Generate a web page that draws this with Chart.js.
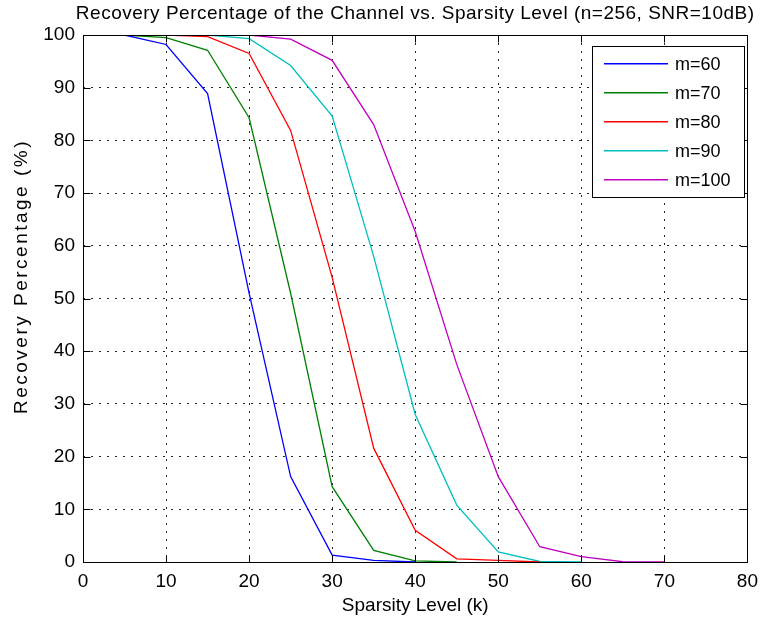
<!DOCTYPE html>
<html>
<head>
<meta charset="utf-8">
<script src="https://cdn.jsdelivr.net/npm/chart.js@4.4.0/dist/chart.umd.min.js"></script>
<style>
  html, body { margin: 0; padding: 0; background: #fff; }
  #wrap { width: 766px; height: 623px; }
</style>
</head>
<body>
<div id="wrap"><canvas id="chart"></canvas></div>
<script>
// sparsity level k
const sparsity = [5, 10, 15, 20, 25, 30, 35, 40, 45, 50, 55, 60, 65, 70];

// recovery percentage for each number of measurements m
const m60  = [100, 98.2, 88.9, 51.0, 16.2,  1.3,  0.3,  0,    null, null, null, null, null, null];
const m70  = [100, 99.5, 97.1, 84.3, 51.0, 14.3,  2.2,  0.2,  0,    null, null, null, null, null];
const m80  = [100, 100,  99.7, 96.5, 81.9, 54.0, 21.6,  6.0,  0.6,  0.3,  0,    null, null, null];
const m90  = [100, 100,  100,  99.3, 94.2, 84.6, 58.0, 28.0, 10.8,  1.9,  0.1,  0,    null, null];
const m100 = [100, 100,  100,  100,  99.2, 95.2, 83.0, 62.7, 37.5, 16.2,  2.9,  1.0,  0.05, 0];

const seriesLabels = ["m=60", "m=70", "m=80", "m=90", "m=100"];
const seriesColors = ["#0000ff", "#008000", "#ff0000", "#00bfbf", "#bf00bf"];

const xTicks = [0, 10, 20, 30, 40, 50, 60, 70, 80];
const yTicks = [0, 10, 20, 30, 40, 50, 60, 70, 80, 90, 100];

const titleText = "Recovery Percentage of the Channel vs. Sparsity Level (n=256, SNR=10dB)";
const xLabel = "Sparsity Level (k)";
const yLabel = "Recovery Percentage (%)";

const FONT = '"Liberation Sans", Arial, sans-serif';

function toPoints(values) {
  const pts = [];
  values.forEach((v, i) => {
    if (v !== null) pts.push({ x: sparsity[i], y: v });
  });
  return pts;
}

const allSeries = [m60, m70, m80, m90, m100];

// box, inward ticks, legend, axis labels and title, drawn like a matlab figure
const matlabFrame = {
  id: "matlabFrame",
  afterDatasetsDraw(chart) {
    const ctx = chart.ctx;
    const a = chart.chartArea;
    const xs = chart.scales.x;
    const ys = chart.scales.y;
    const L = Math.round(a.left) + 0.5, R = Math.round(a.right) + 0.5;
    const T = Math.round(a.top) + 0.5, B = Math.round(a.bottom) + 0.5;
    const tick = 7;

    ctx.save();
    ctx.setLineDash([]);
    ctx.strokeStyle = "#000";
    ctx.lineWidth = 1;
    ctx.strokeRect(L, T, R - L, B - T);

    ctx.beginPath();
    xTicks.forEach(t => {
      const px = Math.round(xs.getPixelForValue(t)) + 0.5;
      ctx.moveTo(px, B); ctx.lineTo(px, B - tick);
      ctx.moveTo(px, T); ctx.lineTo(px, T + tick);
    });
    yTicks.forEach(t => {
      const py = Math.round(ys.getPixelForValue(t)) + 0.5;
      ctx.moveTo(L, py); ctx.lineTo(L + tick, py);
      ctx.moveTo(R, py); ctx.lineTo(R - tick, py);
    });
    ctx.stroke();

    // legend box
    const lx = 592.5, ly = 46.5, lw = 152, lh = 151;
    ctx.fillStyle = "#fff";
    ctx.fillRect(lx, ly, lw, lh);
    ctx.strokeStyle = "#000";
    ctx.strokeRect(lx, ly, lw, lh);
    ctx.font = "18px " + FONT;
    ctx.textBaseline = "middle";
    ctx.textAlign = "left";
    seriesLabels.forEach((lab, i) => {
      const yy = 64 + i * 29;
      ctx.fillStyle = seriesColors[i];
      ctx.fillRect(604, yy - 1, 64, 1.5);
      ctx.fillStyle = "#000";
      ctx.fillText(lab, 675, yy + 1);
    });

    // labels + title
    ctx.fillStyle = "#000";
    ctx.font = "19px " + FONT;
    ctx.textAlign = "center";
    ctx.letterSpacing = "0.5px";
    ctx.fillText(titleText, (a.left + a.right) / 2, 14);
    ctx.letterSpacing = "0px";
    ctx.fillText(xLabel, (a.left + a.right) / 2, 606);

    ctx.save();
    ctx.translate(22, (a.top + a.bottom) / 2 - 22);
    ctx.rotate(-Math.PI / 2);
    ctx.letterSpacing = "2.5px";
    ctx.fillText(yLabel, 0, 0);
    ctx.restore();

    ctx.restore();
  }
};

new Chart(document.getElementById("chart"), {
  type: "line",
  data: {
    datasets: allSeries.map((vals, i) => ({
      label: seriesLabels[i],
      data: toPoints(vals),
      borderColor: seriesColors[i],
      backgroundColor: seriesColors[i],
      borderWidth: 1.3,
      pointRadius: 0,
      tension: 0,
      fill: false
    }))
  },
  options: {
    responsive: true,
    maintainAspectRatio: false,
    animation: false,
    layout: { padding: { top: 35, right: 15, left: 0, bottom: 0 } },
    plugins: {
      legend: { display: false },
      title: { display: false },
      tooltip: { enabled: false }
    },
    scales: {
      x: {
        type: "linear",
        min: 0, max: 80,
        afterBuildTicks: (scale) => { scale.ticks = xTicks.map(v => ({ value: v })); },
        ticks: { color: "#000", font: { family: FONT, size: 19 }, padding: 8, maxRotation: 0 },
        grid: { color: "rgba(0,0,0,0.85)", lineWidth: 1, drawTicks: false },
        border: { display: false, dash: [2, 6] },
        afterFit: (scale) => { scale.height = 61; }
      },
      y: {
        min: 0, max: 100,
        afterBuildTicks: (scale) => { scale.ticks = yTicks.map(v => ({ value: v })); },
        ticks: { color: "#000", font: { family: FONT, size: 19 }, padding: 8 },
        grid: { color: "rgba(0,0,0,0.85)", lineWidth: 1, drawTicks: false },
        border: { display: false, dash: [2, 6] },
        afterFit: (scale) => { scale.width = 83; }
      }
    }
  },
  plugins: [matlabFrame]
});
</script>
</body>
</html>
